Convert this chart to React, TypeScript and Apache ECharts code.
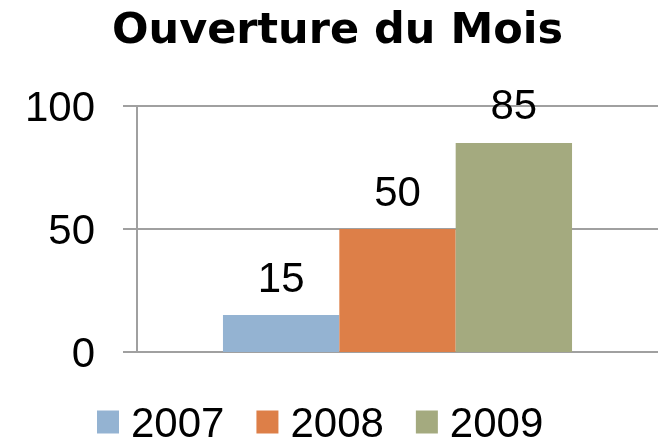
import React, { useEffect, useRef } from "react";
import * as echarts from "echarts";

const categories = [""];
const seriesNames = ["2007", "2008", "2009"];
const values2007 = [15];
const values2008 = [50];
const values2009 = [85];
const colors = ["#94B3D2", "#DD7F48", "#A4AA7F"];
const yTicks = { min: 0, max: 100, interval: 50 };

export default function App() {
  const ref = useRef<HTMLDivElement>(null);
  useEffect(() => {
    const chart = echarts.init(ref.current!, null, { renderer: "svg" });
    const font = "Liberation Sans";
    const seriesData = [values2007, values2008, values2009];
    chart.setOption({
      animation: false,
      title: {
        text: "Ouverture du Mois",
        left: 112,
        top: 6,
        padding: 0,
        textStyle: { fontFamily: "DejaVu Sans", fontWeight: "bold", fontSize: 43, color: "#000" },
      },
      legend: {
        left: 97,
        top: 401,
        padding: 0,
        itemWidth: 22,
        itemHeight: 23,
        itemGap: 32,
        icon: "rect",
        textStyle: {
          fontFamily: font,
          fontSize: 42,
          lineHeight: 32,
          color: "#000",
          padding: [0, 0, 0, 7],
        },
        data: seriesNames,
      },
      grid: { left: 137, right: 0, top: 106, bottom: 89 },
      xAxis: {
        type: "category",
        data: categories,
        axisLine: { show: true, lineStyle: { color: "#A0A0A0", width: 2 } },
        axisTick: { show: false },
        axisLabel: { show: false },
      },
      yAxis: {
        type: "value",
        min: yTicks.min,
        max: yTicks.max,
        interval: yTicks.interval,
        axisLine: { show: true, lineStyle: { color: "#A0A0A0", width: 2 } },
        axisTick: { show: true, length: 14, lineStyle: { color: "#A0A0A0", width: 2 } },
        splitLine: { show: true, lineStyle: { color: "#A0A0A0", width: 2 } },
        axisLabel: { margin: 42, fontFamily: font, fontSize: 42, color: "#000" },
      },
      series: seriesNames.map((name, i) => ({
        name,
        type: "bar",
        data: seriesData[i],
        barGap: "0%",
        barCategoryGap: "33%",
        itemStyle: { color: colors[i] },
        label: {
          show: true,
          position: "top",
          distance: 17,
          fontFamily: font,
          fontSize: 42,
          color: "#000",
        },
      })),
    });
    return () => chart.dispose();
  }, []);
  return (
    <div
      ref={ref}
      style={{ position: "fixed", left: 0, top: 0, width: 658, height: 441 }}
    />
  );
}
